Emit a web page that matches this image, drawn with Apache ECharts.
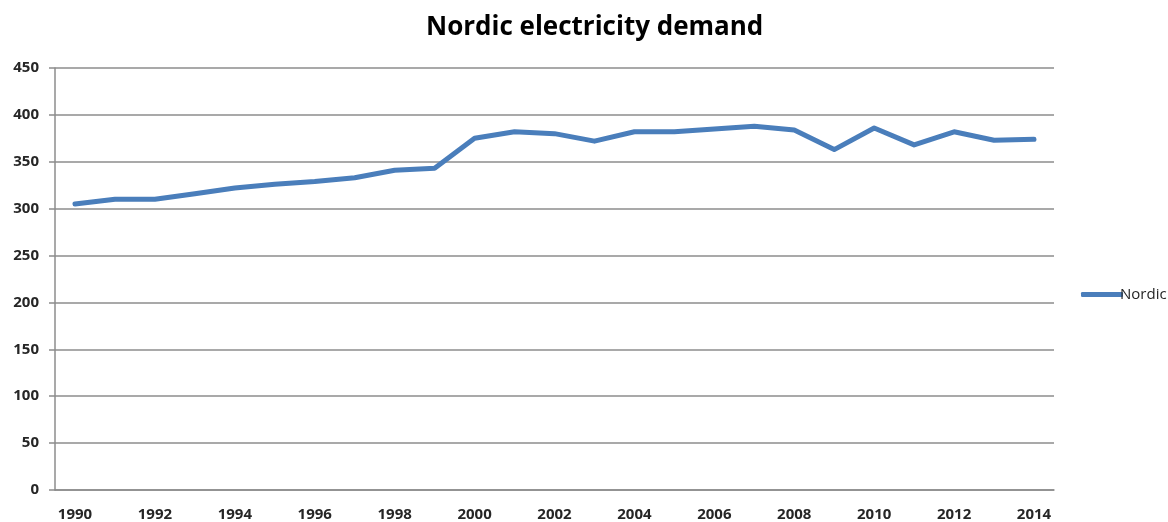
<!DOCTYPE html>
<html>
<head>
<meta charset="utf-8">
<title>Nordic electricity demand</title>
<script src="https://cdn.jsdelivr.net/npm/echarts@6/dist/echarts.min.js"></script>
<style>
  html, body { margin: 0; padding: 0; background: #fff; }
  #chart { width: 1168px; height: 522px; }
</style>
</head>
<body>
<div id="chart"></div>
<script>
// years on the x axis
var years = ['1990', '1991', '1992', '1993', '1994', '1995', '1996', '1997', '1998', '1999',
  '2000', '2001', '2002', '2003', '2004', '2005', '2006', '2007', '2008', '2009',
  '2010', '2011', '2012', '2013', '2014'];
// demand, TWh
var nordic = [305, 310, 310, 316, 322, 326, 329, 333, 341, 343,
  375, 382, 380, 372, 382, 382, 385, 388, 384, 363,
  386, 368, 382, 373, 374];

var gridColor = '#8c8c8c';
var fontName = '"Open Sans", "DejaVu Sans", sans-serif';
var labelFont = { color: '#262626', fontWeight: 'bold', fontSize: 15, fontFamily: fontName };

var chart = echarts.init(document.getElementById('chart'));
chart.setOption({
  animation: false,
  title: {
    text: 'Nordic electricity demand',
    left: 421,
    top: 10,
    textStyle: { fontSize: 26, fontWeight: 'bold', color: '#000', fontFamily: fontName }
  },
  legend: {
    data: ['Nordic'],
    left: 1076,
    top: 282,
    icon: 'roundRect',
    itemWidth: 42,
    itemHeight: 5,
    textStyle: { color: '#262626', fontSize: 15, padding: [0, 0, 0, -8], fontFamily: fontName }
  },
  grid: { left: 55, right: 114, top: 68, bottom: 31, containLabel: false },
  xAxis: {
    type: 'category',
    data: years,
    boundaryGap: true,
    axisLine: { lineStyle: { color: gridColor, width: 1.5 } },
    axisTick: { interval: 0, length: 6, lineStyle: { color: gridColor, width: 1.5 } },
    axisLabel: Object.assign({ interval: 1, margin: 17 }, labelFont)
  },
  yAxis: {
    type: 'value',
    min: 0,
    max: 450,
    interval: 50,
    axisLine: { show: true, lineStyle: { color: gridColor, width: 1.5 } },
    axisTick: { show: true, length: 6, lineStyle: { color: gridColor, width: 1.5 } },
    axisLabel: Object.assign({ margin: 16 }, labelFont),
    splitLine: { lineStyle: { color: gridColor, width: 1.5 } }
  },
  series: [{
    name: 'Nordic',
    type: 'line',
    data: nordic,
    symbol: 'none',
    color: '#4a7ebb',
    lineStyle: { width: 5, color: '#4a7ebb', join: 'round', cap: 'round' }
  }]
});
</script>
</body>
</html>
